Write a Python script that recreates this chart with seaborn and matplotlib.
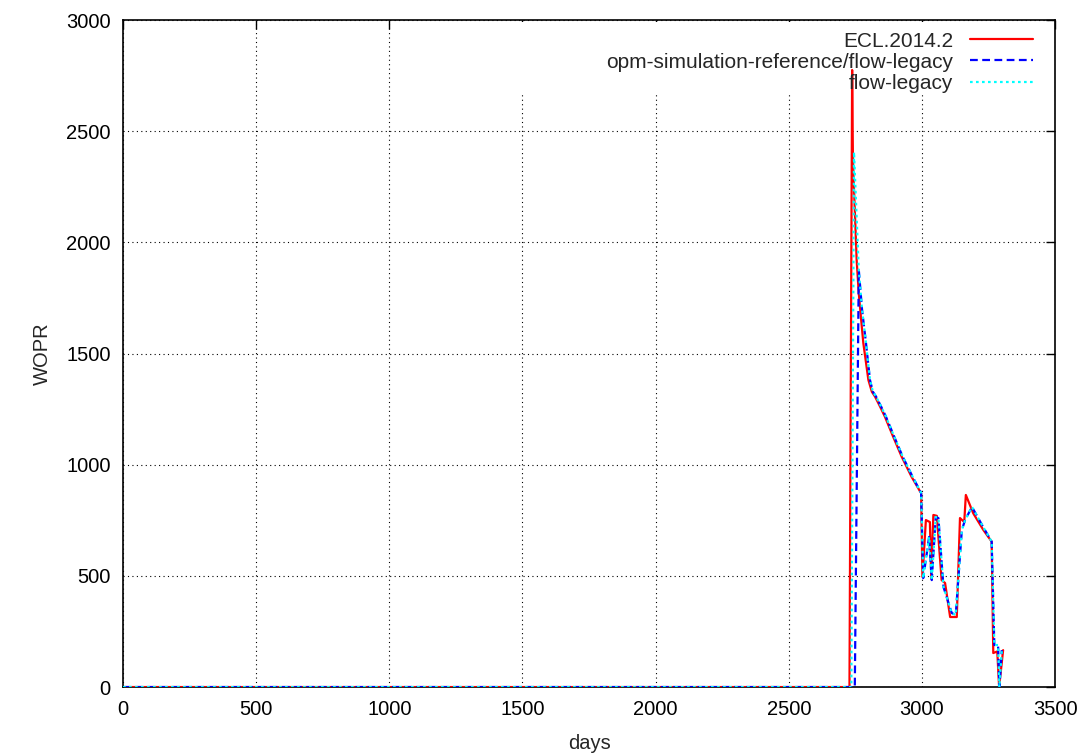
import matplotlib
matplotlib.use("Agg")
import matplotlib.pyplot as plt
import matplotlib.patches as mpatches
import pandas as pd
import seaborn as sns

# ECL.2014.2
days_ecl = [0, 2728, 2738, 2741, 2755, 2763, 2772, 2780, 2799, 2812, 2824, 2843, 2861, 2892,
            2924, 2961, 2993, 2997, 3002, 3015, 3030, 3035, 3043, 3056, 3074, 3087, 3106, 3131,
            3143, 3159, 3165, 3193, 3231, 3262, 3268, 3283, 3290, 3305]
wopr_ecl = [0, 0, 2775, 2370, 1920, 1770, 1650, 1547, 1381, 1328, 1306, 1261, 1216, 1126,
            1036, 946, 880, 873, 495, 751, 742, 490, 774, 770, 481, 468, 315, 315,
            760, 742, 864, 781, 706, 654, 153, 160, 0, 166]

# opm-simulation-reference/flow-legacy
days_ref = [0, 2748, 2763, 2775, 2790, 2805, 2816, 2828, 2847, 2865, 2896, 2928, 2965, 2997,
            3005, 3027, 3037, 3052, 3062, 3081, 3112, 3127, 3150, 3162, 3188, 3230, 3262,
            3272, 3286, 3291, 3300]
wopr_ref = [0, 0, 1876, 1700, 1547, 1381, 1328, 1306, 1261, 1216, 1126, 1036, 946, 873,
            490, 675, 481, 765, 760, 450, 333, 324, 706, 751, 810, 720, 654,
            189, 189, 0, 166]

# flow-legacy
days_flow = [0, 2735, 2745, 2763, 2775, 2790, 2805, 2816, 2828, 2847, 2865, 2896, 2928, 2965,
             2997, 3005, 3027, 3037, 3052, 3062, 3081, 3112, 3127, 3150, 3162, 3188, 3230,
             3262, 3272, 3286, 3291, 3300]
wopr_flow = [0, 0, 2406, 1876, 1700, 1547, 1381, 1328, 1306, 1261, 1216, 1126, 1036, 946,
             873, 490, 675, 481, 765, 760, 450, 333, 324, 706, 751, 810, 720,
             654, 189, 189, 0, 166]

names = ['ECL.2014.2', 'opm-simulation-reference/flow-legacy', 'flow-legacy']

df = pd.concat([
    pd.DataFrame({'days': days_ecl, 'WOPR': wopr_ecl, 'case': names[0]}),
    pd.DataFrame({'days': days_ref, 'WOPR': wopr_ref, 'case': names[1]}),
    pd.DataFrame({'days': days_flow, 'WOPR': wopr_flow, 'case': names[2]}),
])

sns.set_style("white")
plt.rcParams['font.family'] = ['Liberation Sans', 'DejaVu Sans']

fig, ax = plt.subplots(figsize=(10.86, 7.55), dpi=100)
fig.subplots_adjust(left=0.1133, right=0.9715, top=0.9735, bottom=0.09)

palette = {names[0]: '#ff0000', names[1]: '#0000ff', names[2]: '#00ffff'}
dashes = {names[0]: '', names[1]: (3.5, 2), names[2]: (1.2, 1.5)}
sns.lineplot(data=df, x='days', y='WOPR', hue='case', style='case', palette=palette,
             dashes=dashes, estimator=None, sort=False, linewidth=1.6, ax=ax, zorder=3)

# gnuplot key area hides the grid behind it
ax.add_patch(mpatches.Rectangle((0.35, 0.892), 0.64, 0.105, transform=ax.transAxes,
                                facecolor='white', edgecolor='none', zorder=1))

ax.set_xlim(0, 3500)
ax.set_ylim(0, 3000)
ax.set_xticks(range(0, 3501, 500))
ax.set_yticks(range(0, 3001, 500))
ax.grid(True, color='black', linestyle=(0, (1, 3)), linewidth=0.8)
ax.set_axisbelow(True)
ax.tick_params(direction='in', length=6.5, width=1, top=True, right=True,
               labelsize=14.5, pad=9, colors='black')
for s in ax.spines.values():
    s.set_color('black')
    s.set_linewidth(1.2)
ax.set_xlabel('days', fontsize=14.5, labelpad=11)
ax.set_ylabel('WOPR', fontsize=14.5, labelpad=10)

handles, labels = ax.get_legend_handles_labels()
leg = ax.legend(handles=handles, labels=labels, loc='upper right', bbox_to_anchor=(0.985, 0.995),
                borderaxespad=0, frameon=False, markerfirst=False, fontsize=15,
                handlelength=3.0, handletextpad=0.8, labelspacing=0.1)
leg.set_zorder(4)

plt.savefig('out.png', dpi=100)
